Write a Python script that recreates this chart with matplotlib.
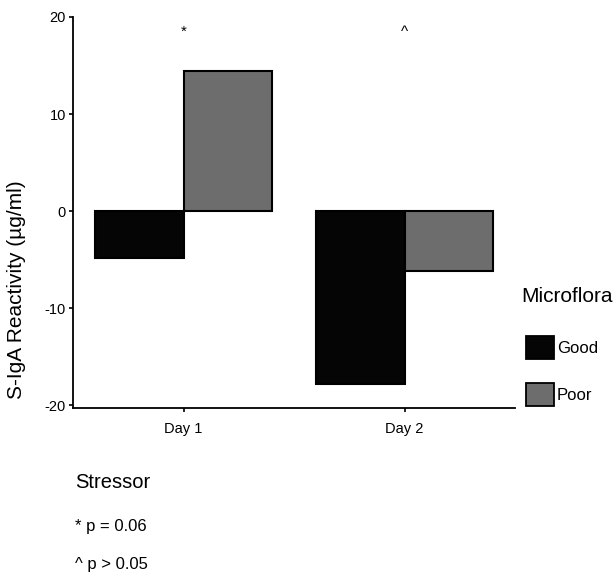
import matplotlib.pyplot as plt
import numpy as np
from matplotlib.patches import Patch

plt.rcParams["font.family"] = ["Liberation Sans", "DejaVu Sans"]
plt.rcParams["axes.unicode_minus"] = False

# Data
days = ["Day 1", "Day 2"]
groups = ["Good", "Poor"]
good = [-4.8, -17.8]
poor = [14.4, -6.2]
marks = ["*", "^"]
colors = ["#050505", "#6d6d6d"]

fig = plt.figure(figsize=(6.16, 5.81), dpi=100)
ax = fig.add_axes([73 / 616, 1 - 408 / 581, 442 / 616, 391 / 581])

x = np.arange(len(days))
w = 0.40
ax.bar(x - w / 2, good, w, color=colors[0], edgecolor="black", linewidth=1.5)
ax.bar(x + w / 2, poor, w, color=colors[1], edgecolor="black", linewidth=1.5)

for xi, m in zip(x, marks):
    ax.text(xi, 18.5, m, ha="center", va="center", fontsize=11)

ax.set_ylim(-20.3, 20)
ax.set_xlim(-0.5, 1.5)
ax.set_yticks([-20, -10, 0, 10, 20])
ax.set_xticks(x)
ax.set_xticklabels(days)
ax.tick_params(labelsize=10.5, length=3, width=1.2, pad=2)
ax.tick_params(axis="x", pad=7)
for s in ["left", "bottom"]:
    ax.spines[s].set_linewidth(1.3)
for s in ["top", "right"]:
    ax.spines[s].set_visible(False)

fig.text(17 / 616, 1 - 290 / 581, "S-IgA Reactivity (µg/ml)", rotation=90,
         ha="center", va="center", fontsize=15)

# legend
fig.text(521 / 616, 1 - 297 / 581, "Microflora", fontsize=15, va="center")
handles = [Patch(facecolor=c, edgecolor="black", linewidth=1.3, label=g)
           for c, g in zip(colors, groups)]
fig.legend(handles=handles, loc="upper left",
           bbox_to_anchor=(526 / 616, 1 - 336 / 581), frameon=False,
           fontsize=12, handlelength=1.65, handleheight=1.75,
           handletextpad=0.2, labelspacing=1.45, borderpad=0, borderaxespad=0)

fig.text(75 / 616, 1 - 482 / 581, "Stressor", fontsize=14.5, va="center")
fig.text(75 / 616, 1 - 527 / 581, "* p = 0.06", fontsize=12, va="center")
fig.text(75 / 616, 1 - 565 / 581, "^ p > 0.05", fontsize=12, va="center")

fig.savefig("out.png", dpi=100)
